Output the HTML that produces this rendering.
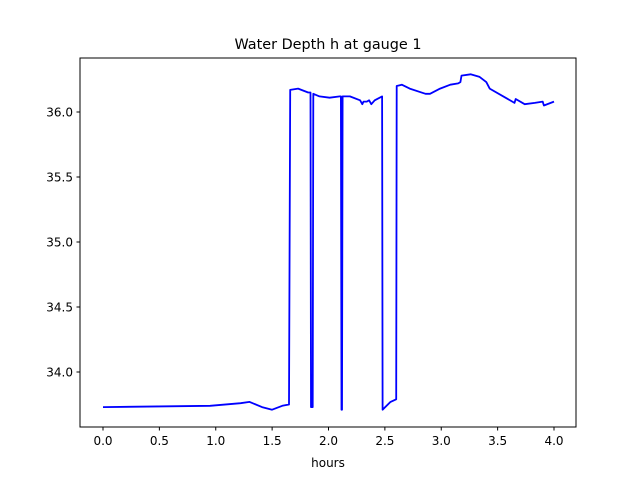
<!DOCTYPE html>
<html><head><meta charset="utf-8"><style>
body{margin:0;background:#fff;font-family:"Liberation Sans","DejaVu Sans",sans-serif;}
svg text{font-family:"DejaVu Sans","Liberation Sans",sans-serif;}
</style></head><body>
<svg id="chart" width="640" height="480" xmlns="http://www.w3.org/2000/svg">
<rect width="640" height="480" fill="#fff"/>
<text x="328" y="49" font-size="14.4" text-anchor="middle">Water Depth h at gauge 1</text>
<text x="328" y="467" font-size="12" text-anchor="middle">hours</text>
<g id="ticks"></g>
<path id="line" fill="none" stroke="#0000ff" stroke-width="1.8" stroke-linejoin="round"/>
<rect x="80" y="58" width="496" height="369" fill="none" stroke="#000" stroke-width="1"/>
</svg>
<script>
const hours=[0,0.95,1.22,1.30,1.41,1.50,1.59,1.65,1.66,1.73,1.82,1.84,1.845,1.86,1.865,1.92,2.01,2.10,2.11,2.115,2.12,2.125,2.19,2.28,2.30,2.31,2.34,2.36,2.38,2.41,2.475,2.48,2.55,2.60,2.605,2.65,2.72,2.86,2.90,2.99,3.08,3.15,3.17,3.18,3.26,3.34,3.40,3.43,3.57,3.65,3.66,3.74,3.83,3.90,3.91,4.0];
const depth=[33.73,33.74,33.76,33.77,33.73,33.71,33.74,33.75,36.17,36.18,36.15,36.15,33.73,33.73,36.14,36.12,36.11,36.12,36.12,33.71,33.71,36.12,36.12,36.09,36.06,36.08,36.08,36.09,36.06,36.09,36.12,33.71,33.77,33.79,36.2,36.21,36.18,36.14,36.14,36.18,36.21,36.22,36.23,36.28,36.29,36.27,36.23,36.18,36.11,36.07,36.10,36.06,36.07,36.08,36.05,36.08];
const xTicks=[0,0.5,1,1.5,2,2.5,3,3.5,4];
const yTicks=[34.0,34.5,35.0,35.5,36.0];
const X=h=>103+h*112.75;
const Y=v=>112+(36-v)*130;
const NS="http://www.w3.org/2000/svg";
let d="";
hours.forEach((h,i)=>{d+=(i?"L":"M")+X(h).toFixed(1)+","+Y(depth[i]).toFixed(1);});
document.getElementById("line").setAttribute("d",d);
const g=document.getElementById("ticks");
xTicks.forEach(t=>{
 const l=document.createElementNS(NS,"line");
 
 
 l.setAttribute("x1",X(t));l.setAttribute("x2",X(t));l.setAttribute("y1",427);l.setAttribute("y2",430.5);l.setAttribute("stroke","#000");
 g.appendChild(l);
 const tx=document.createElementNS(NS,"text");
 
 
 tx.setAttribute("x",X(t));tx.setAttribute("y",445);tx.setAttribute("font-size","12");tx.setAttribute("text-anchor","middle");
 tx.textContent=t.toFixed(1);g.appendChild(tx);
});
yTicks.forEach(t=>{
 const l=document.createElementNS(NS,"line");
 
 
 l.setAttribute("x1",76.5);l.setAttribute("x2",80);l.setAttribute("y1",Y(t));l.setAttribute("y2",Y(t));l.setAttribute("stroke","#000");
 g.appendChild(l);
 const tx=document.createElementNS(NS,"text");
 
 
 tx.setAttribute("x",73);tx.setAttribute("y",Y(t)+4.5);tx.setAttribute("font-size","12");tx.setAttribute("text-anchor","end");
 tx.textContent=t.toFixed(1);g.appendChild(tx);
});
</script>
</body></html>
